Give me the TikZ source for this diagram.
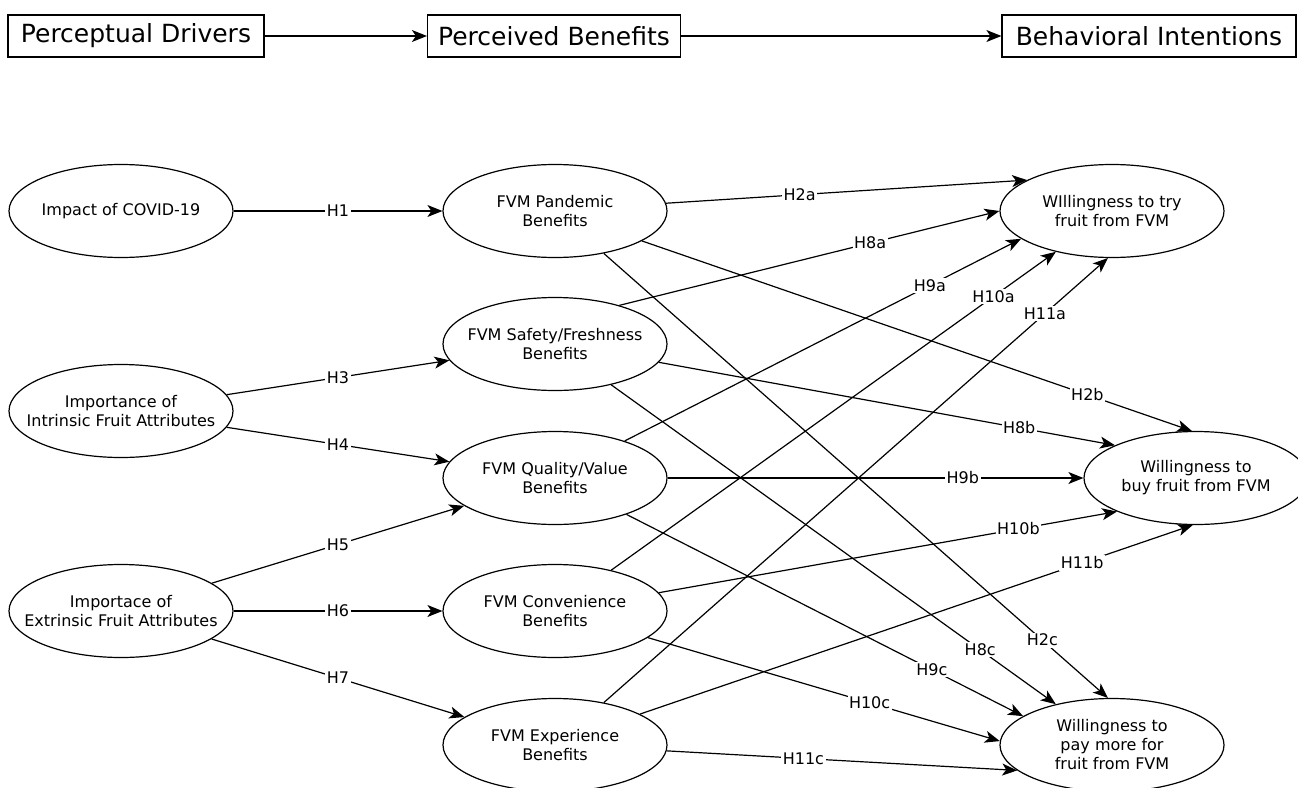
\documentclass[tikz,border=0pt]{standalone}
\usepackage{fontspec}
\setmainfont{DejaVu Sans}
\usepackage{tikz}
\usetikzlibrary{arrows.meta,shapes.geometric}

\begin{document}
\begin{tikzpicture}[x=1pt,y=-1pt,line width=1.2pt,
	ell/.style={ellipse,draw,minimum width=224pt,minimum height=93pt,inner xsep=-40pt,inner ysep=0pt,align=center,font=\fontsize{16}{19}\selectfont},
	hdr/.style={rectangle,draw,minimum height=42pt,inner sep=0pt,font=\fontsize{25}{30}\selectfont},
	hyp/.style={-{Stealth[length=15pt,width=12pt,inset=4pt]}},
	lab/.style={fill=white,inner sep=1.5pt,font=\fontsize{16}{19}\selectfont}]
	\useasboundingbox (0,0) rectangle (1298,787);

	\node(t1) at (136,36)[hdr,minimum width=256pt]{Perceptual Drivers};
	\node(t2) at (554,36)[hdr,minimum width=253pt]{Perceived Benefits};
	\node(t3) at (1149,36)[hdr,minimum width=294pt]{Behavioral Intentions};
	\draw[hyp] (t1) -- (t2);
	\draw[hyp] (t2) -- (t3);

	\node(d1) at (121,211)[ell]{Impact of COVID-19};
	\node(d2) at (121,411)[ell]{Importance of\\Intrinsic Fruit Attributes};
	\node(d3) at (121,611)[ell]{Importace of\\Extrinsic Fruit Attributes};

	\node(b1) at (555,211)[ell]{FVM Pandemic\\Benefits};
	\node(b2) at (555,344)[ell]{FVM Safety/Freshness\\Benefits};
	\node(b3) at (555,478)[ell]{FVM Quality/Value\\Benefits};
	\node(b4) at (555,611)[ell]{FVM Convenience\\Benefits};
	\node(b5) at (555,745)[ell]{FVM Experience\\Benefits};

	\node(w1) at (1112,211)[ell]{WIllingness to try\\fruit from FVM};
	\node(w2) at (1196,478)[ell]{Willingness to\\buy fruit from FVM};
	\node(w3) at (1112,745)[ell]{Willingness to\\pay more for\\fruit from FVM};

	\draw[hyp] (d1) -- node[lab]{H1} (b1);
	\draw[hyp] (d2) -- node[lab]{H3} (b2);
	\draw[hyp] (d2) -- node[lab]{H4} (b3);
	\draw[hyp] (d3) -- node[lab]{H5} (b3);
	\draw[hyp] (d3) -- node[lab]{H6} (b4);
	\draw[hyp] (d3) -- node[lab]{H7} (b5);

	\draw[hyp] (b1.4) -- node[lab,pos=.37]{H2a} (w1.160);
	\draw[hyp] (b1.341) -- node[lab,pos=.81]{H2b} (w2.95);
	\draw[hyp] (b1.319) -- node[lab,pos=.87]{H2c} (w3.95);
	\draw[hyp] (b2.31) -- node[lab,pos=.66]{H8a} (w1.180);
	\draw[hyp] (b2.350) -- node[lab,pos=.79]{H8b} (w2.158);
	\draw[hyp] (b2.324) -- node[lab,pos=.83]{H8c} (w3.144);
	\draw[hyp] (b3.28) -- node[lab,pos=.77]{H9a} (w1.197);
	\draw[hyp] (b3.0) -- node[lab,pos=.71]{H9b} (w2.180);
	\draw[hyp] (b3.333) -- node[lab,pos=.77]{H9c} (w3.162);
	\draw[hyp] (b4.36) -- node[lab,pos=.86]{H10a} (w1.216);
	\draw[hyp] (b4.10) -- node[lab,pos=.785]{H10b} (w2.203);
	\draw[hyp] (b4.344) -- node[lab,pos=.63]{H10c} (w3.178);
	\draw[hyp] (b5.41) -- node[lab,pos=.875]{H11a} (w1.265);
	\draw[hyp] (b5.20) -- node[lab,pos=.8]{H11b} (w2.266);
	\draw[hyp] (b5.357) -- node[lab,pos=.39]{H11c} (w3.195);
\end{tikzpicture}
\end{document}
